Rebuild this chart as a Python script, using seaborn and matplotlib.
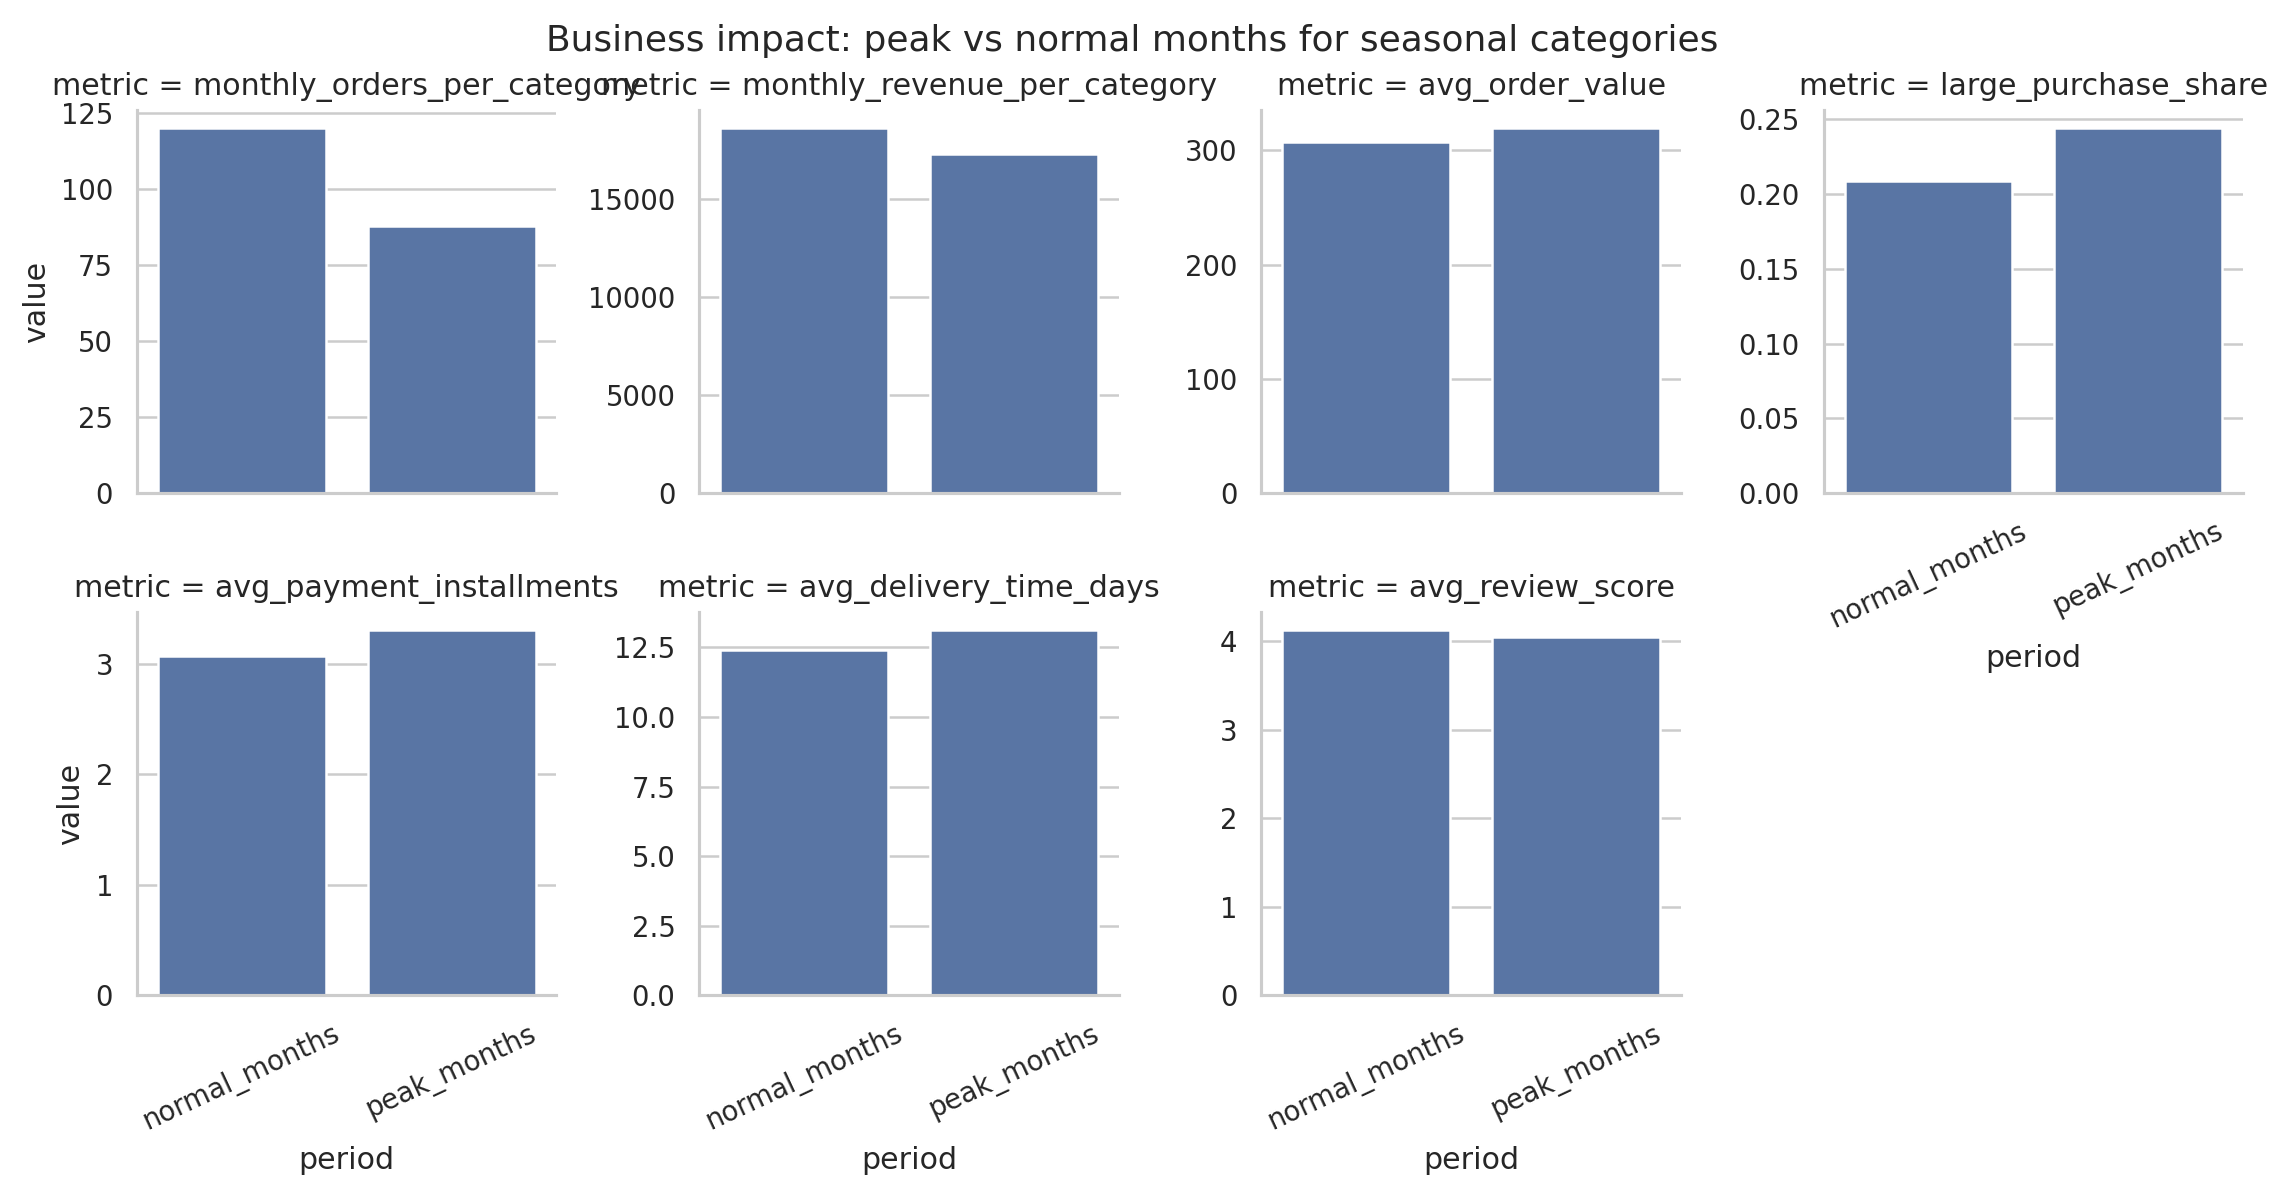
import pandas as pd
import matplotlib
matplotlib.use("Agg")
import matplotlib.pyplot as plt
from matplotlib.ticker import MaxNLocator
import seaborn as sns

# 數據
metrics = [
    "monthly_orders_per_category",
    "monthly_revenue_per_category",
    "avg_order_value",
    "large_purchase_share",
    "avg_payment_installments",
    "avg_delivery_time_days",
    "avg_review_score",
]
periods = ["normal_months", "peak_months"]
normal_values = [120.0, 18600.0, 307.0, 0.209, 3.07, 12.39, 4.12]
peak_values = [87.7, 17300.0, 319.4, 0.244, 3.30, 13.11, 4.05]

rows = []
for m, n, p in zip(metrics, normal_values, peak_values):
    rows.append({"metric": m, "period": periods[0], "value": n})
    rows.append({"metric": m, "period": periods[1], "value": p})
df = pd.DataFrame(rows)

sns.set_theme(style="whitegrid")
plt.rcParams['font.family'] = ['DejaVu Sans']

DPI = 180
g = sns.catplot(
    data=df, x="period", y="value", col="metric", col_wrap=4,
    kind="bar", sharey=False, height=3.2, aspect=1.1,
)
for ax in g.axes.flat:
    ax.tick_params(axis="x", labelrotation=25)
    ax.yaxis.set_major_locator(MaxNLocator(nbins=6, steps=[1, 2, 2.5, 5, 10]))
g.figure.suptitle("Business impact: peak vs normal months for seasonal categories",
                  x=0.496)

g.figure.set_size_inches(2282 / DPI, 1195 / DPI)
g.figure.subplots_adjust(left=0.060, right=0.983, top=0.908, bottom=0.167,
                         wspace=0.34, hspace=0.31)
g.figure.savefig("out.png", dpi=DPI)
